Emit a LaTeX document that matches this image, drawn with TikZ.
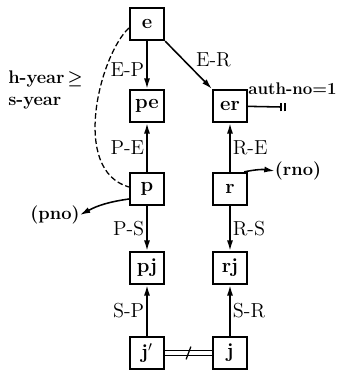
\documentclass[tikz,border=0pt]{standalone}
\usetikzlibrary{arrows.meta,calc}
\begin{document}
\begin{tikzpicture}[x=0.025cm,y=-0.025cm,
    box/.style={draw,line width=1.6pt,minimum width=0.85cm,minimum height=0.8cm,inner sep=0pt,font=\Large\bfseries},
    rel/.style={line width=1.1pt,-{Latex[length=2.6mm,width=1.5mm]}},
    lab/.style={font=\Large,inner sep=1.5pt},
    bold/.style={font=\fontsize{13}{15.5}\selectfont\bfseries\boldmath,inner sep=0pt}]

\def\LEFTX{147}
\def\RIGHTX{230}
	\useasboundingbox (0,0) rectangle (339,375);

	% boxes
	\node[box] (e)  at (\LEFTX,24)   {e};
	\node[box] (pe) at (\LEFTX,106)  {pe};
	\node[box] (er) at (\RIGHTX,106) {er};
	\node[box] (p)  at (\LEFTX,189)  {p};
	\node[box] (r)  at (\RIGHTX,189) {r};
	\node[box] (pj) at (\LEFTX,268)  {pj};
	\node[box] (rj) at (\RIGHTX,268) {rj};
	\node[box] (jp) at (\LEFTX,353)  {j$'$};
	\node[box] (j)  at (\RIGHTX,353) {j};

	% free texts
	\node[bold,anchor=west,align=left] (cond) at (8,90) {h-year\,$\geq$\\s-year};
	\node[bold,font=\large\bfseries,anchor=east] (auth) at (337,89) {auth-no=1};
	\node[bold] (rno) at (298,171) {(rno)};
	\node[bold] (pno) at (55,215) {(pno)};
	\coordinate (stop) at (281,107);

	% connectors
	\draw[rel] (e) -- node[lab,left,pos=0.6] {E-P} (pe);
	\draw[rel] (e.south east) -- node[lab,above right,pos=0.6] {E-R} (er.north west);
	\draw[rel] (p) -- node[lab,left] {P-E} (pe);
	\draw[rel] (r) -- node[lab,right] {R-E} (er);
	\draw[rel] (p) -- node[lab,left] {P-S} (pj);
	\draw[rel] (r) -- node[lab,right] {R-S} (rj);
	\draw[rel] (jp) -- node[lab,left] {S-P} (pj);
	\draw[rel] (j) -- node[lab,right] {S-R} (rj);

	\draw[rel] ([xshift=-0.1cm]r.north east) to[bend left=10] (rno.west);
	\draw[rel] ([yshift=-0.25cm]p.west) to[bend right=10] (pno.east);

	\draw[line width=1.1pt] (er) -- (stop);
	\draw[line width=1.5pt] ([yshift=-0.11cm]stop) -- ([yshift=0.11cm]stop);
	\draw[line width=1.5pt] ([xshift=0.11cm,yshift=-0.11cm]stop) -- ([xshift=0.11cm,yshift=0.11cm]stop);

	\draw[line width=0.9pt,dash pattern=on 4pt off 2pt] ([yshift=-0.1cm]e.west) .. controls (100,55) and (70,170) .. ([yshift=0.05cm]p.west);

	\draw[double,double distance=2.4pt,line width=0.9pt] (jp) -- (j);
	\coordinate (mid) at ($(jp)!0.5!(j)$);
	\draw[line width=0.9pt] ([xshift=-0.06cm,yshift=-0.16cm]mid) -- ([xshift=0.06cm,yshift=0.16cm]mid);

\end{tikzpicture}
\end{document}
